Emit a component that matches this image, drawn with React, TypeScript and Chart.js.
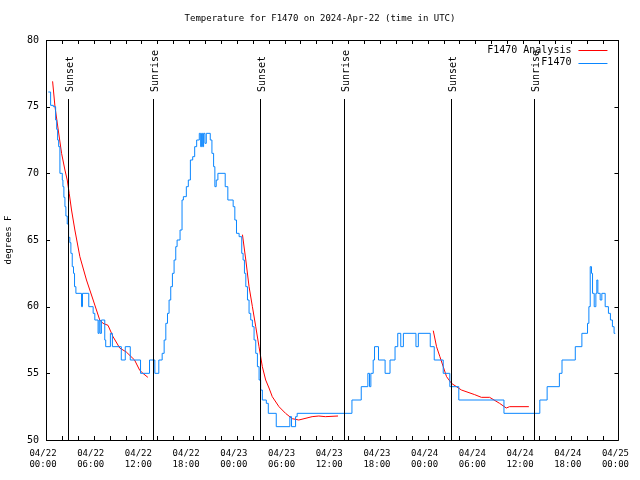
import { useEffect, useRef } from 'react';
import { Chart, registerables } from 'chart.js';

Chart.register(...registerables);

const TITLE = 'Temperature for F1470 on 2024-Apr-22 (time in UTC)';
const Y_TITLE = 'degrees F';
const X_DATES = ['04/22', '04/22', '04/22', '04/22', '04/23', '04/23', '04/23', '04/23', '04/24', '04/24', '04/24', '04/24', '04/25'];
const X_TIMES = ['00:00', '06:00', '12:00', '18:00', '00:00', '06:00', '12:00', '18:00', '00:00', '06:00', '12:00', '18:00', '00:00'];
const LEGEND_LABELS = ['F1470 Analysis', 'F1470'];

const SUNSET_HOURS = [2.8, 26.88, 50.88];
const SUNRISE_HOURS = [13.44, 37.52, 61.4];

// Observed temperature (hours since 04/22 00:00 UTC)
const OBS_HOURS = [
  0.29, 0.58, 0.92, 1.21, 1.34, 1.46, 1.59, 1.75, 2.05, 2.13, 2.25, 2.38, 2.5, 2.67, 2.84, 3.0, 3.13, 3.3, 3.46, 3.59,
  3.76, 4.47, 4.59, 5.38, 5.93, 6.14, 6.55, 6.68, 6.8, 6.97, 7.39, 7.51, 8.1, 8.35, 9.47, 9.97, 10.6, 11.89, 13.02, 13.69,
  14.19, 14.61, 14.86, 15.07, 15.28, 15.48, 15.69, 15.9, 16.11, 16.32, 16.49, 16.86, 17.11, 17.28, 17.65, 17.9, 18.16, 18.45, 18.7, 18.95,
  19.28, 19.45, 19.57, 19.7, 19.82, 19.99, 20.16, 20.66, 20.87, 21.08, 21.24, 21.41, 21.62, 22.54, 22.87, 23.54, 23.75, 23.96, 24.29, 24.62,
  24.79, 24.96, 25.13, 25.34, 25.54, 25.75, 25.96, 26.17, 26.38, 26.59, 26.8, 27.0, 27.21, 27.71, 27.96, 28.96, 30.67, 30.88, 31.39, 31.59,
  38.48, 39.65, 40.48, 40.69, 40.86, 41.15, 41.32, 41.82, 42.65, 43.27, 43.9, 44.24, 44.62, 44.95, 46.53, 46.83, 48.33, 48.83, 49.96, 50.79,
  51.92, 57.6, 62.11, 63.03, 64.57, 64.9, 66.57, 67.4, 68.11, 68.28, 68.45, 68.61, 68.74, 68.95, 69.16, 69.28, 69.41, 69.7, 69.91, 70.33,
  70.74, 70.99, 71.24, 71.45, 71.6,
];
const OBS_TEMPS = [
  76.1, 75.1, 75.0, 74.0, 73.3, 72.5, 72.0, 70.0, 69.5, 69.0, 68.2, 67.5, 66.8, 66.2, 65.2, 64.8, 64.0, 63.0, 62.5, 61.5,
  61.0, 60.0, 61.0, 60.0, 59.5, 59.0, 58.0, 59.0, 58.0, 59.0, 57.5, 57.0, 58.0, 57.0, 56.0, 57.0, 56.0, 55.0, 56.0, 55.0,
  56.0, 56.5, 57.5, 58.75, 59.5, 60.5, 61.5, 62.5, 63.5, 64.5, 65.0, 65.75, 68.0, 68.25, 69.0, 69.5, 71.0, 71.25, 72.0, 72.5,
  73.0, 72.0, 73.0, 72.0, 73.0, 72.25, 73.0, 72.5, 71.5, 70.5, 69.0, 69.5, 70.0, 69.0, 68.0, 67.5, 66.5, 65.5, 65.25, 64.0,
  63.5, 62.5, 61.5, 60.5, 59.5, 59.0, 58.5, 57.5, 56.5, 55.5, 54.5, 53.75, 53.0, 52.75, 52.0, 51.0, 51.75, 51.0, 51.75, 52.0,
  53.0, 54.0, 55.0, 54.0, 55.0, 56.0, 57.0, 56.0, 55.0, 56.0, 57.0, 58.0, 57.0, 58.0, 57.0, 58.0, 57.0, 56.0, 55.0, 54.0,
  53.0, 52.0, 53.0, 54.0, 55.0, 56.0, 57.0, 58.0, 58.75, 60.0, 63.0, 62.5, 61.0, 60.0, 61.0, 62.0, 61.0, 60.5, 61.0, 60.0,
  59.5, 59.0, 58.5, 58.0, 58.0,
];

// Analysis curves (three nightly segments)
const FIT1_HOURS = [0.83, 1.13, 1.54, 1.96, 2.38, 2.67, 2.92, 3.21, 3.63, 4.26, 5.09, 5.93, 6.76, 7.18, 7.8, 8.43, 9.27, 10.1, 11.14, 11.77, 12.19, 12.81];
const FIT1_TEMPS = [76.9, 75.0, 73.25, 71.5, 70.25, 69.5, 68.5, 67.25, 65.75, 63.75, 62.0, 60.5, 59.0, 58.75, 58.6, 57.75, 56.9, 56.6, 56.0, 55.25, 55.0, 54.7];
const FIT2_HOURS = [24.71, 25.13, 25.54, 25.96, 26.38, 26.79, 27.21, 27.63, 28.05, 28.46, 29.3, 30.13, 30.97, 31.8, 33.47, 34.31, 35.14, 36.73];
const FIT2_TEMPS = [65.4, 63.5, 61.5, 60.0, 58.5, 57.0, 55.5, 54.5, 53.9, 53.25, 52.5, 52.0, 51.6, 51.5, 51.75, 51.8, 51.75, 51.8];
const FIT3_HOURS = [48.71, 49.12, 49.54, 49.96, 50.38, 51.0, 52.25, 53.92, 54.76, 55.8, 57.05, 57.89, 58.31, 60.73];
const FIT3_TEMPS = [58.2, 57.0, 56.25, 55.5, 54.75, 54.25, 53.75, 53.4, 53.2, 53.2, 52.75, 52.4, 52.5, 52.5];

const BLUE = '#0a86ff';
const RED = '#ff0000';
const FONT = 'DejaVu Sans Mono';

function pairs(xs: number[], ys: number[]) {
  return xs.map((x, i) => ({ x, y: ys[i] }));
}

const gnuplotFrame = {
  id: 'gnuplotFrame',
  afterDatasetsDraw(chart: any) {
    const { ctx, chartArea } = chart;
    const xs = chart.scales.x;
    ctx.save();
    ctx.strokeStyle = '#000';
    ctx.fillStyle = '#000';
    ctx.lineWidth = 1;
    ctx.font = `10px "${FONT}"`;
    const lineTop = chartArea.top + 59;
    const draw = (h: number, label: string) => {
      const px = Math.round(xs.getPixelForValue(h)) + 0.5;
      ctx.beginPath();
      ctx.moveTo(px, lineTop);
      ctx.lineTo(px, chartArea.bottom);
      ctx.stroke();
      ctx.save();
      ctx.translate(px + 1.5, chartArea.top + 52);
      ctx.rotate(-Math.PI / 2);
      ctx.textAlign = 'left';
      ctx.textBaseline = 'middle';
      ctx.fillText(label, 0, 0);
      ctx.restore();
    };
    SUNSET_HOURS.forEach((h) => draw(h, 'Sunset'));
    SUNRISE_HOURS.forEach((h) => draw(h, 'Sunrise'));
    ctx.restore();
  },
  afterDraw(chart: any) {
    const { ctx, chartArea } = chart;
    const { left, right, top, bottom } = chartArea;
    const xs = chart.scales.x;
    const ys = chart.scales.y;
    ctx.save();
    ctx.strokeStyle = '#000';
    ctx.lineWidth = 1;
    ctx.beginPath();
    ctx.rect(Math.round(left) + 0.5, Math.round(top) + 0.5, Math.round(right - left), Math.round(bottom - top));
    ctx.stroke();
    ctx.beginPath();
    xs.ticks.forEach((t: any) => {
      const px = Math.round(xs.getPixelForValue(t.value)) + 0.5;
      ctx.moveTo(px, bottom);
      ctx.lineTo(px, bottom - 4);
      ctx.moveTo(px, top);
      ctx.lineTo(px, top + 4);
    });
    ys.ticks.forEach((t: any) => {
      const py = Math.round(ys.getPixelForValue(t.value)) + 0.5;
      ctx.moveTo(left, py);
      ctx.lineTo(left + 4, py);
      ctx.moveTo(right, py);
      ctx.lineTo(right - 4, py);
    });
    ctx.stroke();

    // title
    ctx.fillStyle = '#000';
    ctx.font = `9px "${FONT}"`;
    ctx.textAlign = 'center';
    ctx.textBaseline = 'middle';
    ctx.fillText(TITLE, chart.width / 2, 19);

    // legend (top right, text right-aligned, sample line to the right)
    ctx.font = `10px "${FONT}"`;
    const colors = [RED, BLUE];
    ctx.textAlign = 'right';
    LEGEND_LABELS.forEach((label, i) => {
      const y = top + 10 + i * 12.5;
      ctx.fillStyle = '#000';
      ctx.fillText(label, right - 47, y);
      ctx.strokeStyle = colors[i];
      ctx.beginPath();
      ctx.moveTo(right - 40, Math.round(y) + 0.5);
      ctx.lineTo(right - 11, Math.round(y) + 0.5);
      ctx.stroke();
    });
    ctx.restore();
  },
};

export default function App() {
  const ref = useRef<HTMLCanvasElement>(null);

  useEffect(() => {
    const canvas = ref.current;
    if (!canvas) return;
    const fitData: any[] = [
      ...pairs(FIT1_HOURS, FIT1_TEMPS),
      { x: 18, y: null },
      ...pairs(FIT2_HOURS, FIT2_TEMPS),
      { x: 42, y: null },
      ...pairs(FIT3_HOURS, FIT3_TEMPS),
    ];
    const chart = new Chart(canvas, {
      type: 'line',
      data: {
        datasets: [
          {
            label: LEGEND_LABELS[1],
            data: pairs(OBS_HOURS, OBS_TEMPS),
            borderColor: BLUE,
            borderWidth: 1,
            pointRadius: 0,
            stepped: 'before',
            fill: false,
          },
          {
            label: LEGEND_LABELS[0],
            data: fitData,
            borderColor: RED,
            borderWidth: 1,
            pointRadius: 0,
            spanGaps: false,
            tension: 0,
            fill: false,
          },
        ],
      },
      options: {
        responsive: false,
        animation: false,
        devicePixelRatio: 1,
        layout: { padding: { top: 40, right: 19, left: 0, bottom: 0 } },
        plugins: {
          legend: { display: false },
          title: { display: false },
          tooltip: { enabled: false },
        },
        scales: {
          x: {
            type: 'linear',
            min: 0,
            max: 72,
            grid: { display: false, drawTicks: false },
            border: { display: false },
            ticks: {
              stepSize: 2,
              autoSkip: false,
              maxRotation: 0,
              minRotation: 0,
              padding: 8,
              labelOffset: -3,
              color: '#000',
              font: { family: FONT, size: 9 },
              callback: (v: any) => {
                const n = Number(v);
                if (n % 6 !== 0) return '';
                const i = n / 6;
                return [X_DATES[i], X_TIMES[i]];
              },
            },
            afterFit: (s: any) => {
              s.height = 40;
            },
          },
          y: {
            min: 50,
            max: 80,
            grid: { display: false, drawTicks: false },
            border: { display: false },
            ticks: {
              stepSize: 5,
              padding: 7,
              color: '#000',
              font: { family: FONT, size: 10 },
            },
            title: {
              display: true,
              text: Y_TITLE,
              color: '#000',
              font: { family: FONT, size: 9 },
              padding: { top: 3.6, bottom: 0 },
            },
            afterFit: (s: any) => {
              s.width = 46;
            },
          },
        },
      },
      plugins: [gnuplotFrame],
    });
    return () => chart.destroy();
  }, []);

  return (
    <div style={{ position: 'absolute', left: 0, top: 0, width: 640, height: 480, background: '#fff' }}>
      <canvas ref={ref} width={640} height={480} style={{ display: 'block' }} />
    </div>
  );
}
